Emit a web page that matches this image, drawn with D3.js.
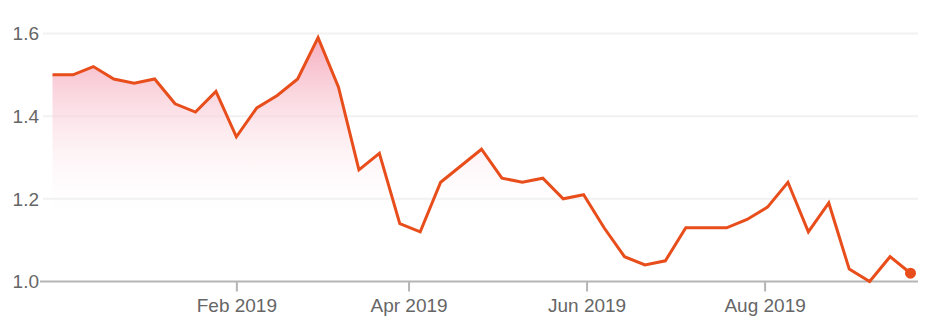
<!DOCTYPE html>
<html>
<head>
<meta charset="utf-8">
<script src="https://cdn.jsdelivr.net/npm/d3@7"></script>
<style>
  html, body { margin: 0; padding: 0; background: #fff; }
  svg { display: block; font-family: "Liberation Sans", Arial, sans-serif; }
</style>
</head>
<body>
<svg id="chart" width="939" height="320"></svg>
<script>
// ---- data ----
const startDate = "2018-11-30";
const values = [1.50, 1.50, 1.52, 1.49, 1.48, 1.49, 1.43, 1.41, 1.46, 1.35,
                1.42, 1.45, 1.49, 1.59, 1.47, 1.27, 1.31, 1.14, 1.12, 1.24,
                1.28, 1.32, 1.25, 1.24, 1.25, 1.20, 1.21, 1.13, 1.06, 1.04,
                1.05, 1.13, 1.13, 1.13, 1.15, 1.18, 1.24, 1.12, 1.19, 1.03,
                1.00, 1.06, 1.02];
const yTicks = [1.0, 1.2, 1.4, 1.6];
const xTickDates = ["2019-02-01", "2019-04-01", "2019-06-01", "2019-08-01"];
const xTickLabels = ["Feb 2019", "Apr 2019", "Jun 2019", "Aug 2019"];

// ---- build ----
const parse = d3.utcParse("%Y-%m-%d");
const t0 = parse(startDate);
const data = values.map((v, i) => ({ date: d3.utcDay.offset(t0, i * 7), value: v }));
const tickDates = xTickDates.map(parse);

const svg = d3.select("#chart");
const plotLeft = 40, plotRight = 918;

const x = d3.scaleUtc()
  .domain([data[0].date, data[data.length - 1].date])
  .range([52.5, 910.5]);
const y = d3.scaleLinear().domain([1.0, 1.6]).range([281.5, 33.5]);

// gradient
const defs = svg.append("defs");
const grad = defs.append("linearGradient")
  .attr("id", "fillGrad")
  .attr("gradientUnits", "userSpaceOnUse")
  .attr("x1", 0).attr("x2", 0)
  .attr("y1", y(1.6)).attr("y2", y(1.14));
grad.append("stop").attr("offset", "0%").attr("stop-color", "#f5a9bb").attr("stop-opacity", 1);
grad.append("stop").attr("offset", "100%").attr("stop-color", "#ffffff").attr("stop-opacity", 0);

// gridlines
svg.append("g")
  .selectAll("line")
  .data(yTicks.filter(d => d !== 1.0))
  .join("line")
  .attr("x1", plotLeft + 3).attr("x2", plotRight)
  .attr("y1", d => y(d)).attr("y2", d => y(d))
  .attr("stroke", "#f1f1f1")
  .attr("stroke-width", 2);

// area
svg.append("path")
  .datum(data)
  .attr("fill", "url(#fillGrad)")
  .attr("d", d3.area().x(d => x(d.date)).y0(y(1.0)).y1(d => y(d.value)));

// y axis labels
const yAxis = d3.axisLeft(y).tickValues(yTicks).tickSize(0).tickPadding(0)
  .tickFormat(d3.format(".1f"));
const gy = svg.append("g").attr("transform", `translate(${plotLeft - 1},0)`).call(yAxis);
gy.select(".domain").remove();
gy.selectAll("text")
  .attr("fill", "#666")
  .attr("font-size", "19px")
  .attr("font-family", "'Liberation Sans', Arial, sans-serif")
  .attr("dy", "0.34em");

// baseline axis
svg.append("line")
  .attr("x1", plotLeft).attr("x2", plotRight)
  .attr("y1", y(1.0)).attr("y2", y(1.0))
  .attr("stroke", "#b5b5b5")
  .attr("stroke-width", 2);

// x axis
const xAxis = d3.axisBottom(x).tickValues(tickDates).tickSize(10).tickPadding(7)
  .tickFormat((d, i) => xTickLabels[i]);
const gx = svg.append("g").attr("transform", `translate(0,${y(1.0)})`).call(xAxis);
gx.select(".domain").remove();
gx.selectAll("line").attr("stroke", "#b5b5b5").attr("stroke-width", 2);
gx.selectAll("text")
  .attr("fill", "#666")
  .attr("font-size", "19px")
  .attr("font-family", "'Liberation Sans', Arial, sans-serif");

// line
svg.append("path")
  .datum(data)
  .attr("fill", "none")
  .attr("stroke", "#e84e1b")
  .attr("stroke-width", 3)
  .attr("stroke-linejoin", "miter")
  .attr("d", d3.line().x(d => x(d.date)).y(d => y(d.value)));

// last point
const last = data[data.length - 1];
svg.append("circle")
  .attr("cx", x(last.date)).attr("cy", y(last.value))
  .attr("r", 5.5)
  .attr("fill", "#e84e1b");
</script>
</body>
</html>
